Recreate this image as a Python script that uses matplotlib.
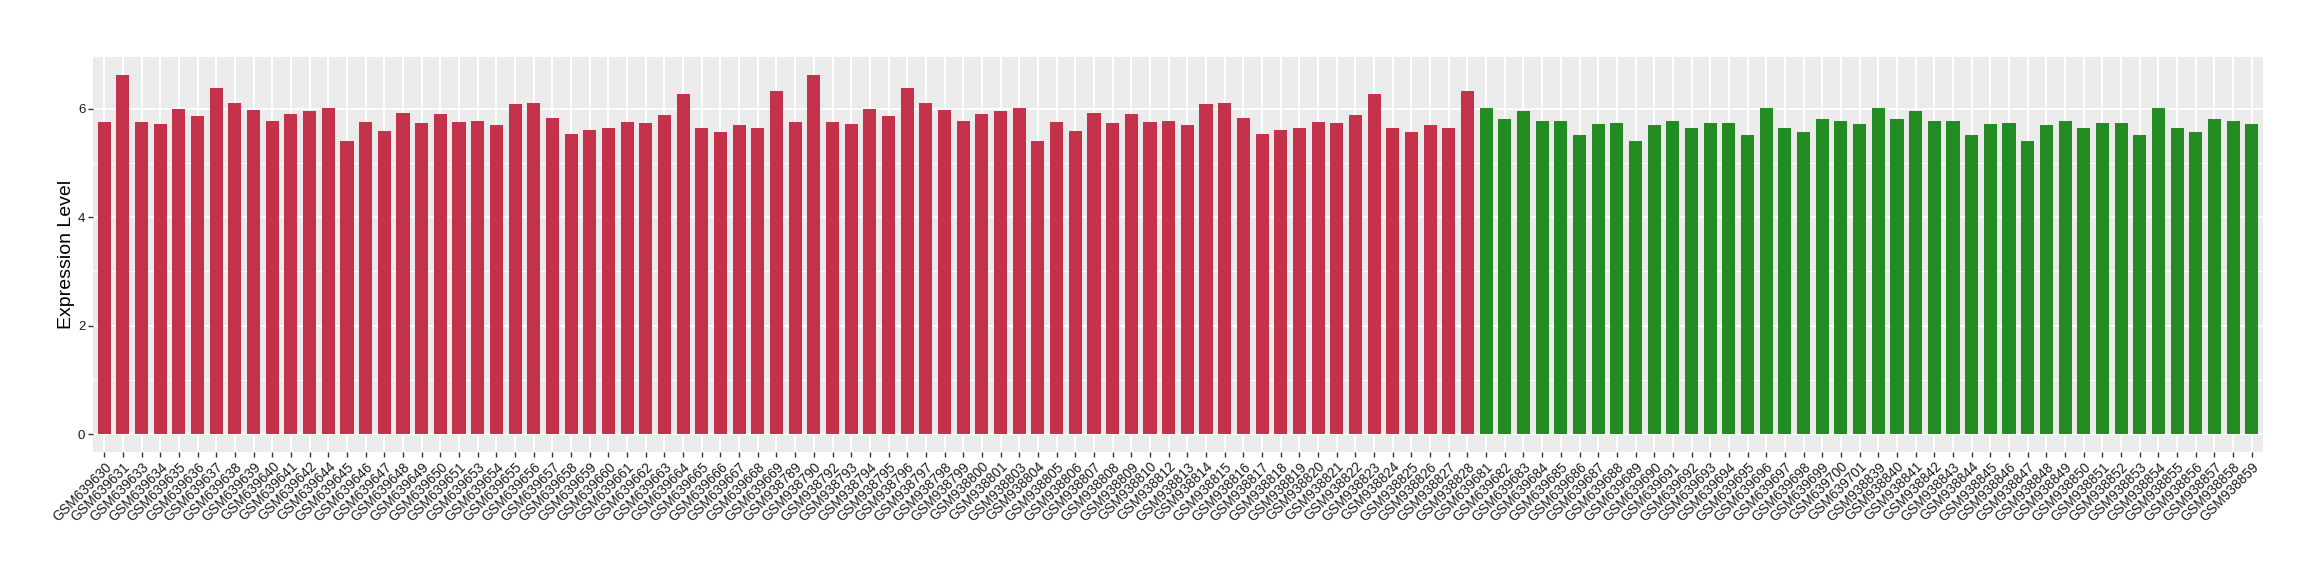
import matplotlib
matplotlib.use('Agg')
import matplotlib.pyplot as plt
from matplotlib.ticker import MultipleLocator

plt.rcParams['font.family'] = ['Liberation Sans', 'DejaVu Sans']

# ── data ─────────────────────────────────────────────────────────────────────
red_samples = [
    'GSM639630', 'GSM639631', 'GSM639633', 'GSM639634', 'GSM639635', 'GSM639636',
    'GSM639637', 'GSM639638', 'GSM639639', 'GSM639640', 'GSM639641', 'GSM639642',
    'GSM639644', 'GSM639645', 'GSM639646', 'GSM639647', 'GSM639648', 'GSM639649',
    'GSM639650', 'GSM639651', 'GSM639653', 'GSM639654', 'GSM639655', 'GSM639656',
    'GSM639657', 'GSM639658', 'GSM639659', 'GSM639660', 'GSM639661', 'GSM639662',
    'GSM639663', 'GSM639664', 'GSM639665', 'GSM639666', 'GSM639667', 'GSM639668',
    'GSM639669',
    'GSM938789', 'GSM938790', 'GSM938792', 'GSM938793', 'GSM938794', 'GSM938795',
    'GSM938796', 'GSM938797', 'GSM938798', 'GSM938799', 'GSM938800', 'GSM938801',
    'GSM938803', 'GSM938804', 'GSM938805', 'GSM938806', 'GSM938807', 'GSM938808',
    'GSM938809', 'GSM938810', 'GSM938812', 'GSM938813', 'GSM938814', 'GSM938815',
    'GSM938816', 'GSM938817', 'GSM938818', 'GSM938819', 'GSM938820', 'GSM938821',
    'GSM938822', 'GSM938823', 'GSM938824', 'GSM938825', 'GSM938826', 'GSM938827',
    'GSM938828',
]
red_values = [
    5.75, 6.62, 5.75, 5.71, 5.99, 5.86, 6.38, 6.10, 5.97, 5.78, 5.90, 5.95,
    6.02, 5.41, 5.75, 5.58, 5.91, 5.73, 5.90, 5.75, 5.77, 5.69, 6.08, 6.10,
    5.82, 5.54, 5.60, 5.64, 5.75, 5.73, 5.88, 6.27, 5.65, 5.56, 5.69, 5.65,
    6.32,
    5.75, 6.62, 5.75, 5.71, 5.99, 5.86, 6.38, 6.10, 5.97, 5.78, 5.90, 5.95,
    6.02, 5.41, 5.75, 5.58, 5.91, 5.73, 5.90, 5.75, 5.77, 5.69, 6.08, 6.10,
    5.82, 5.54, 5.60, 5.64, 5.75, 5.73, 5.88, 6.27, 5.65, 5.56, 5.69, 5.65,
    6.32,
]

green_samples = [
    'GSM639681', 'GSM639682', 'GSM639683', 'GSM639684', 'GSM639685', 'GSM639686',
    'GSM639687', 'GSM639688', 'GSM639689', 'GSM639690', 'GSM639691', 'GSM639692',
    'GSM639693', 'GSM639694', 'GSM639695', 'GSM639696', 'GSM639697', 'GSM639698',
    'GSM639699', 'GSM639700', 'GSM639701',
    'GSM938839', 'GSM938840', 'GSM938841', 'GSM938842', 'GSM938843', 'GSM938844',
    'GSM938845', 'GSM938846', 'GSM938847', 'GSM938848', 'GSM938849', 'GSM938850',
    'GSM938851', 'GSM938852', 'GSM938853', 'GSM938854', 'GSM938855', 'GSM938856',
    'GSM938857', 'GSM938858', 'GSM938859',
]
green_values = [
    6.02, 5.80, 5.95, 5.78, 5.78, 5.52, 5.71, 5.73, 5.40, 5.69, 5.78, 5.65,
    5.73, 5.73, 5.51, 6.01, 5.65, 5.56, 5.80, 5.78, 5.71,
    6.02, 5.80, 5.95, 5.78, 5.78, 5.52, 5.71, 5.73, 5.40, 5.69, 5.78, 5.65,
    5.73, 5.73, 5.51, 6.01, 5.65, 5.56, 5.80, 5.78, 5.71,
]

RED = '#C3314A'
GREEN = '#228B22'

# ── plot ─────────────────────────────────────────────────────────────────────
samples = red_samples + green_samples
values = red_values + green_values
colors = [RED] * len(red_values) + [GREEN] * len(green_values)
xpos = list(range(len(samples)))

fig = plt.figure(figsize=(23.2, 5.8), dpi=100)
ax = fig.add_axes([93 / 2320, 1 - 452 / 580, (2263 - 93) / 2320, (452 - 57) / 580])

ax.set_facecolor('#EBEBEB')
ax.bar(xpos, values, width=0.7, color=colors, zorder=2)

ymax = max(values)
ax.set_ylim(-0.05 * ymax, 1.05 * ymax)
ax.set_xlim(-0.6, len(samples) - 1 + 0.6)

ax.yaxis.set_major_locator(MultipleLocator(2))
ax.yaxis.set_minor_locator(MultipleLocator(1))
ax.set_xticks(xpos)
ax.set_xticklabels(samples, rotation=45, ha='right', va='top',
                   rotation_mode='anchor', fontsize=9.8, color='#1A1A1A')
ax.tick_params(axis='y', labelsize=9.5, labelcolor='#1A1A1A')
ax.tick_params(which='major', length=3.5, width=1.0, color='#333333', pad=2)
ax.tick_params(which='minor', length=0)

ax.grid(True, which='major', color='white', linewidth=1.4, zorder=0)
ax.grid(True, which='minor', axis='y', color='white', linewidth=0.7, zorder=0)
ax.set_axisbelow(True)
for s in ax.spines.values():
    s.set_visible(False)

ax.set_ylabel('Expression Level', fontsize=14, labelpad=2)

fig.savefig('out.png', dpi=100)
